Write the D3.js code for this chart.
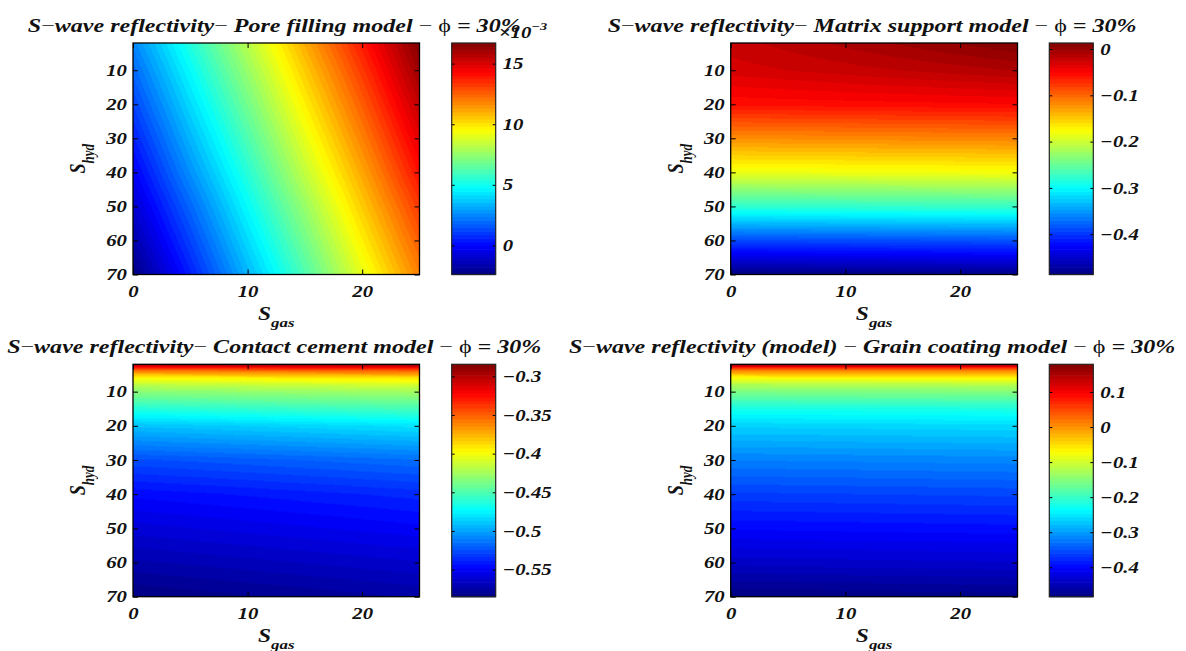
<!DOCTYPE html>
<html>
<head>
<meta charset="utf-8">
<script src="https://cdn.jsdelivr.net/npm/d3@7"></script>
<style>
  body { margin: 0; background: #fff; }
  svg { display: block; }
</style>
</head>
<body>
<svg id="chart"></svg>
<script>
// grid the values were read on (Sgas across, Shyd down)
const sgasGrid = [0, 5, 10, 15, 20, 25];
const shydCoarse = [2, 10, 20, 30, 40, 50, 60, 70];
const shydFine = [2, 3, 4, 6, 8, 10, 15, 20, 30, 40, 50, 60, 70];

// pore filling, values in units of 1e-3
const poreFilling = [
  [ 2.5, 5.4, 8.2, 11.1, 13.9, 16.7],
  [ 1.9, 4.8, 7.6, 10.5, 13.3, 16.2],
  [ 1.2, 4.1, 6.9,  9.8, 12.6, 15.5],
  [ 0.5, 3.4, 6.2,  9.1, 11.9, 14.8],
  [-0.2, 2.7, 5.5,  8.4, 11.2, 14.1],
  [-0.9, 1.9, 4.8,  7.6, 10.5, 13.3],
  [-1.6, 1.2, 4.1,  6.9,  9.8, 12.6],
  [-2.4, 0.5, 3.4,  6.2,  9.1, 11.9]
];

const matrixSupport = [
  [-0.022, -0.015, -0.008, -0.001,  0.006,  0.013],
  [-0.030, -0.026, -0.022, -0.018, -0.014, -0.010],
  [-0.055, -0.054, -0.053, -0.052, -0.051, -0.050],
  [-0.119, -0.118, -0.117, -0.116, -0.115, -0.114],
  [-0.184, -0.183, -0.182, -0.181, -0.180, -0.179],
  [-0.277, -0.276, -0.275, -0.274, -0.273, -0.272],
  [-0.390, -0.389, -0.388, -0.387, -0.386, -0.385],
  [-0.487, -0.486, -0.485, -0.484, -0.483, -0.482]
];

const contactCement = [
  [-0.292, -0.2905, -0.289, -0.2875, -0.286, -0.2845],
  [-0.330, -0.3285, -0.327, -0.3255, -0.324, -0.3225],
  [-0.360, -0.3585, -0.357, -0.3555, -0.354, -0.3525],
  [-0.397, -0.3955, -0.394, -0.3925, -0.391, -0.3895],
  [-0.417, -0.4155, -0.414, -0.4125, -0.411, -0.4095],
  [-0.432, -0.4305, -0.429, -0.4275, -0.426, -0.4245],
  [-0.462, -0.460, -0.458, -0.456, -0.454, -0.452],
  [-0.490, -0.488, -0.486, -0.484, -0.482, -0.480],
  [-0.525, -0.523, -0.521, -0.519, -0.517, -0.515],
  [-0.546, -0.544, -0.542, -0.540, -0.538, -0.536],
  [-0.559, -0.557, -0.555, -0.553, -0.551, -0.549],
  [-0.572, -0.570, -0.568, -0.566, -0.564, -0.562],
  [-0.585, -0.583, -0.581, -0.579, -0.577, -0.575]
];

const grainCoating = [
  [ 0.174,  0.175,  0.176,  0.177,  0.178,  0.179],
  [ 0.070,  0.071,  0.072,  0.073,  0.074,  0.075],
  [ 0.000,  0.001,  0.002,  0.003,  0.004,  0.005],
  [-0.072, -0.071, -0.070, -0.069, -0.068, -0.067],
  [-0.122, -0.121, -0.120, -0.119, -0.118, -0.117],
  [-0.155, -0.154, -0.153, -0.152, -0.151, -0.150],
  [-0.222, -0.221, -0.220, -0.219, -0.218, -0.217],
  [-0.264, -0.263, -0.262, -0.261, -0.260, -0.259],
  [-0.318, -0.317, -0.316, -0.315, -0.314, -0.313],
  [-0.362, -0.361, -0.360, -0.359, -0.358, -0.357],
  [-0.400, -0.399, -0.398, -0.397, -0.396, -0.395],
  [-0.438, -0.437, -0.436, -0.435, -0.434, -0.433],
  [-0.484, -0.483, -0.482, -0.481, -0.480, -0.479]
];

const xTicks = [0, 10, 20];
const yTicks = [10, 20, 30, 40, 50, 60, 70];
const poreTicks = [0, 5, 10, 15];
const matrixTicks = [0, -0.1, -0.2, -0.3, -0.4];
const cementTicks = [-0.3, -0.35, -0.4, -0.45, -0.5, -0.55];
const coatingTicks = [0.1, 0, -0.1, -0.2, -0.3, -0.4];

const titles = [
  "S−wave reflectivity− Pore filling model − ϕ = 30%",
  "S−wave reflectivity− Matrix support model − ϕ = 30%",
  "S−wave reflectivity− Contact cement model − ϕ = 30%",
  "S−wave reflectivity (model) − Grain coating model − ϕ = 30%"
];

const width = 1186, height = 651;
const sx = 1.3; // the figure is stretched sideways
const font = '"Liberation Serif", "Times New Roman", serif';

const svg = d3.select('#chart').attr('width', width).attr('height', height);

// matlab jet, 64 levels
const jet = d3.scaleLinear()
  .domain([0, 1/8, 3/8, 5/8, 7/8, 1])
  .range(['#000080', '#0000ff', '#00ffff', '#ffff00', '#ff0000', '#800000']);
const jetMap = d3.range(64).map(k => d3.rgb(jet((k + 0.5) / 64)));

const panels = [
  {title: titles[0], values: poreFilling, shyd: shydCoarse, ticks: poreTicks, exp: true,
   x0: 133, x1: 419.5, y0: 43, y1: 274.5, cb: 451.7},
  {title: titles[1], values: matrixSupport, shyd: shydCoarse, ticks: matrixTicks,
   x0: 730.7, x1: 1017.5, y0: 43, y1: 274.5, cb: 1049.3},
  {title: titles[2], values: contactCement, shyd: shydFine, ticks: cementTicks,
   x0: 133, x1: 419.5, y0: 364.3, y1: 596.7, cb: 451.7},
  {title: titles[3], values: grainCoating, shyd: shydFine, ticks: coatingTicks,
   x0: 730.7, x1: 1017.5, y0: 364.3, y1: 596.7, cb: 1049.3}
];

function clamp(v, a, b) { return Math.max(a, Math.min(b, v)); }

// bilinear shading between grid nodes (like shading interp)
function sample(p, s, h) {
  const xs = sgasGrid, ys = p.shyd, z = p.values;
  const i = clamp(d3.bisectRight(xs, s) - 1, 0, xs.length - 2);
  const j = clamp(d3.bisectRight(ys, h) - 1, 0, ys.length - 2);
  const tx = clamp((s - xs[i]) / (xs[i + 1] - xs[i]), 0, 1);
  const ty = clamp((h - ys[j]) / (ys[j + 1] - ys[j]), 0, 1);
  const top = z[j][i] * (1 - tx) + z[j][i + 1] * tx;
  const bot = z[j + 1][i] * (1 - tx) + z[j + 1][i + 1] * tx;
  return top * (1 - ty) + bot * ty;
}

// stretch text sideways around its anchor
function stretch(sel) {
  sel.each(function () {
    const t = d3.select(this);
    const x = +t.attr('x') || 0;
    t.attr('x', 0).attr('transform', `translate(${x},0) scale(${sx},1)`);
  });
}

function styleAxis(g, size) {
  g.attr('font-family', font).attr('font-size', size)
    .attr('font-weight', 'bold').attr('font-style', 'italic');
  g.select('.domain').remove();
  g.selectAll('.tick line').attr('stroke', '#000');
  g.selectAll('.tick text').attr('fill', '#111');
}

panels.forEach(p => {
  const g = svg.append('g');
  const x = d3.scaleLinear().domain([0, 25]).range([p.x0, p.x1]);
  const y = d3.scaleLinear().domain([2, 70]).range([p.y0, p.y1]);
  const ext = d3.extent(p.values.flat());
  const level = d3.scaleQuantize().domain(ext).range(d3.range(64));

  // heat map raster
  const cw = Math.round(p.x1 - p.x0), ch = Math.round(p.y1 - p.y0);
  const canvas = document.createElement('canvas');
  canvas.width = cw; canvas.height = ch;
  const ctx = canvas.getContext('2d');
  const img = ctx.createImageData(cw, ch);
  for (let py = 0; py < ch; py++) {
    const h = y.invert(p.y0 + (py + 0.5) * (p.y1 - p.y0) / ch);
    for (let px = 0; px < cw; px++) {
      const s = x.invert(p.x0 + (px + 0.5) * (p.x1 - p.x0) / cw);
      const c = jetMap[level(sample(p, s, h))];
      const k = (py * cw + px) * 4;
      img.data[k] = c.r; img.data[k + 1] = c.g; img.data[k + 2] = c.b; img.data[k + 3] = 255;
    }
  }
  ctx.putImageData(img, 0, 0);
  g.append('image')
    .attr('href', canvas.toDataURL())
    .attr('x', p.x0).attr('y', p.y0)
    .attr('width', p.x1 - p.x0).attr('height', p.y1 - p.y0)
    .attr('preserveAspectRatio', 'none');

  // axes, ticks pointing inward on all four sides
  const bottom = g.append('g').attr('transform', `translate(0,${p.y1})`)
    .call(d3.axisBottom(x).tickValues(xTicks).tickSize(-5).tickPadding(11).tickFormat(d3.format('d')));
  const left = g.append('g').attr('transform', `translate(${p.x0},0)`)
    .call(d3.axisLeft(y).tickValues(yTicks).tickSize(-5).tickPadding(6).tickFormat(d3.format('d')));
  g.append('g').attr('transform', `translate(0,${p.y0})`)
    .call(d3.axisTop(x).tickValues(xTicks).tickSize(-5).tickFormat(''))
    .call(a => styleAxis(a, 16));
  g.append('g').attr('transform', `translate(${p.x1},0)`)
    .call(d3.axisRight(y).tickValues(yTicks).tickSize(-5).tickFormat(''))
    .call(a => styleAxis(a, 16));
  styleAxis(bottom, 16);
  styleAxis(left, 16);
  stretch(bottom.selectAll('.tick text'));
  stretch(left.selectAll('.tick text'));

  g.append('rect')
    .attr('x', p.x0).attr('y', p.y0)
    .attr('width', p.x1 - p.x0).attr('height', p.y1 - p.y0)
    .attr('fill', 'none').attr('stroke', '#000').attr('stroke-width', 1.3);

  // colour bar
  const cbw = 44;
  const yc = d3.scaleLinear().domain(ext).range([p.y1, p.y0]);
  const step = (ext[1] - ext[0]) / 64;
  g.append('g').selectAll('rect')
    .data(jetMap)
    .join('rect')
      .attr('x', p.cb)
      .attr('y', (c, k) => yc(ext[0] + (k + 1) * step))
      .attr('width', cbw)
      .attr('height', (c, k) => yc(ext[0] + k * step) - yc(ext[0] + (k + 1) * step) + 0.6)
      .attr('fill', c => c.formatHex());
  const cbRight = g.append('g').attr('transform', `translate(${p.cb + cbw},0)`)
    .call(d3.axisRight(yc).tickValues(p.ticks).tickSize(-3).tickPadding(7).tickFormat(d3.format('~g')));
  styleAxis(cbRight, 16);
  stretch(cbRight.selectAll('.tick text'));
  g.append('g').attr('transform', `translate(${p.cb},0)`)
    .call(d3.axisLeft(yc).tickValues(p.ticks).tickSize(-3).tickFormat(''))
    .call(a => styleAxis(a, 16));
  g.append('rect')
    .attr('x', p.cb).attr('y', p.y0)
    .attr('width', cbw).attr('height', p.y1 - p.y0)
    .attr('fill', 'none').attr('stroke', '#222').attr('stroke-width', 1.2);

  if (p.exp) {
    const e = g.append('text')
      .attr('transform', `translate(${p.cb + 47},${p.y0 - 5}) scale(${sx},1)`)
      .attr('font-family', font).attr('font-size', 16)
      .attr('font-weight', 'bold').attr('font-style', 'italic').attr('fill', '#111');
    e.append('tspan').text('×10');
    e.append('tspan').attr('dy', -8).attr('font-size', 11).text('−3');
  }

  // title, centred over the plot
  const cx = (p.x0 + p.x1) / 2;
  const t = g.append('text')
    .attr('transform', `translate(${cx - 2},${p.y0 - 11}) scale(${sx},1)`)
    .attr('text-anchor', 'middle')
    .attr('font-family', font).attr('font-size', 18.5)
    .attr('font-weight', 'bold').attr('font-style', 'italic').attr('fill', '#111');
  p.title.split(/([−ϕ])/).filter(d => d).forEach(part => {
    const ts = t.append('tspan').text(part);
    if (part === '−' || part === 'ϕ') ts.attr('font-style', 'normal').attr('font-weight', 'normal');
  });

  // axis names with subscripts
  const xl = g.append('text')
    .attr('transform', `translate(${cx},${p.y1 + 45}) scale(${sx},1)`)
    .attr('text-anchor', 'middle')
    .attr('font-family', font).attr('font-weight', 'bold').attr('font-style', 'italic')
    .attr('fill', '#111');
  xl.append('tspan').attr('font-size', 18).text('S');
  xl.append('tspan').attr('font-size', 13).attr('dy', 7).text('gas');

  const yl = g.append('text')
    .attr('transform', `translate(${p.x0 - 48},${(p.y0 + p.y1) / 2}) rotate(-90) scale(1,${sx})`)
    .attr('text-anchor', 'middle')
    .attr('font-family', font).attr('font-weight', 'bold').attr('font-style', 'italic')
    .attr('fill', '#111');
  yl.append('tspan').attr('font-size', 18).text('S');
  yl.append('tspan').attr('font-size', 13).attr('dy', 7).text('hyd');
});
</script>
</body>
</html>
